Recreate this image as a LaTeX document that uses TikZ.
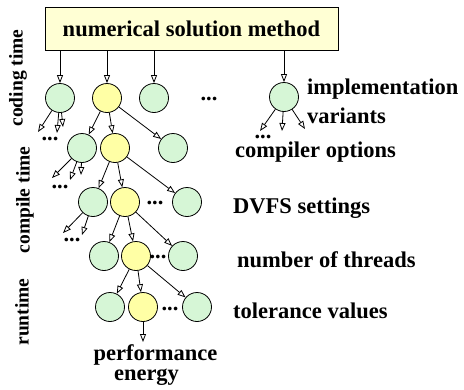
\documentclass[tikz,border=0pt]{standalone}
\usepackage{fontspec}
\setmainfont{Liberation Serif}
\usetikzlibrary{arrows.meta}
\definecolor{vertpale}{RGB}{214,246,214}
\definecolor{jaunepale}{RGB}{255,255,165}
\definecolor{creme}{RGB}{255,255,212}
\newcommand{\gras}{\fontsize{22.5}{25}\selectfont\bfseries}
\newcommand{\etat}[3]{\node[etat,fill=#3] (#1) at (#2) {}}
\newcommand{\fleche}[2]{\draw[fleche] (#1) -- (#2)}
\newcommand{\suite}[2]{\node[suite] (#1) at (#2) {...}}
\newcommand{\niveau}[3]{\node[niveau] (#1) at (#2) {#3}}
\newcommand{\phase}[3]{\node[phase] (#1) at (#2) {#3}}
\tikzset{
	etat/.style={circle,draw,line width=0.8pt,minimum size=29pt,inner sep=0pt},
	fleche/.style={line width=0.8pt,-{Triangle[open,length=8pt,width=6pt]}},
	suite/.style={font=\gras,inner sep=0pt},
	niveau/.style={font=\gras,anchor=base west,inner sep=0pt},
	phase/.style={font=\fontsize{19.5}{21}\selectfont\bfseries,rotate=90,inner sep=0pt}
}

\begin{document}
\begin{tikzpicture}[x=1pt,y=-1pt]
	\useasboundingbox (0,0) rectangle (464,389);
	\node[draw,line width=0.8pt,fill=creme,minimum width=293pt,minimum height=43pt,
		font=\gras] (meth) at (191.5,28.5) {numerical solution method};
	% implementation variants
	\etat{a1}{60,98}{vertpale};
	\etat{a2}{107,98}{jaunepale};
	\etat{a3}{154,98}{vertpale};
	\suite{da}{209,99};
	\etat{a4}{284,97}{vertpale};
	\fleche{meth.south -| a1}{a1};
	\fleche{meth.south -| a2}{a2};
	\fleche{meth.south -| a3}{a3};
	\fleche{meth.south -| a4}{a4};
	\coordinate (a1x) at (38,132);
	\coordinate (a1y) at (57,133);
	\coordinate (a1z) at (63,127);
	\fleche{a1}{a1x}; \fleche{a1}{a1y}; \fleche{a1}{a1z};
	\suite{da1}{50,139};
	\coordinate (a4x) at (260,131);
	\coordinate (a4y) at (282,131);
	\coordinate (a4z) at (305,129);
	\fleche{a4}{a4x}; \fleche{a4}{a4y}; \fleche{a4}{a4z};
	\suite{da4}{263,137};
	% compiler options
	\etat{b1}{82,148}{vertpale};
	\etat{b2}{115,148}{jaunepale};
	\etat{b3}{173,148}{vertpale};
	\fleche{a2}{b1}; \fleche{a2}{b2}; \fleche{a2}{b3};
	\coordinate (b1x) at (52,178);
	\coordinate (b1y) at (70,180);
	\coordinate (b1z) at (81,175);
	\fleche{b1}{b1x}; \fleche{b1}{b1y}; \fleche{b1}{b1z};
	\suite{db1}{60,187};
	% DVFS
	\etat{c1}{93,202}{vertpale};
	\etat{c2}{125,202}{jaunepale};
	\suite{dc}{155,203};
	\etat{c3}{187,202}{vertpale};
	\fleche{b2}{c1}; \fleche{b2}{c2}; \fleche{b2}{c3};
	\coordinate (c1x) at (63,233);
	\coordinate (c1y) at (82,235);
	\fleche{c1}{c1x}; \fleche{c1}{c1y};
	\suite{dc1}{72,240};
	% threads
	\etat{e1}{104,256}{vertpale};
	\etat{e2}{136,256}{jaunepale};
	\suite{de}{158,257};
	\etat{e3}{183,256}{vertpale};
	\fleche{c2}{e1}; \fleche{c2}{e2}; \fleche{c2}{e3};
	% tolerance
	\etat{f1}{110,307}{vertpale};
	\etat{f2}{143,307}{jaunepale};
	\suite{df}{170,309};
	\etat{f3}{197,307}{vertpale};
	\fleche{e2}{f1}; \fleche{e2}{f2}; \fleche{e2}{f3};
	\coordinate (fin) at (143,342);
	\fleche{f2}{fin};
	\node[font=\gras,anchor=base,inner sep=0pt] (perf) at (155.5,360) {performance};
	\node[font=\gras,anchor=base,inner sep=0pt] (nrj) at (146.5,380) {energy};
	% parameter names
	\niveau{n1}{307,94}{implementation};
	\niveau{n1b}{307,123}{variants};
	\niveau{n2}{235,157}{compiler options};
	\niveau{n3}{233,213}{DVFS settings};
	\niveau{n4}{237,267}{number of threads};
	\niveau{n5}{233,318}{tolerance values};
	% phases
	\phase{p1}{18,78}{coding time};
	\phase{p2}{25,200}{compile time};
	\phase{p3}{22,312}{runtime};
\end{tikzpicture}
\end{document}
